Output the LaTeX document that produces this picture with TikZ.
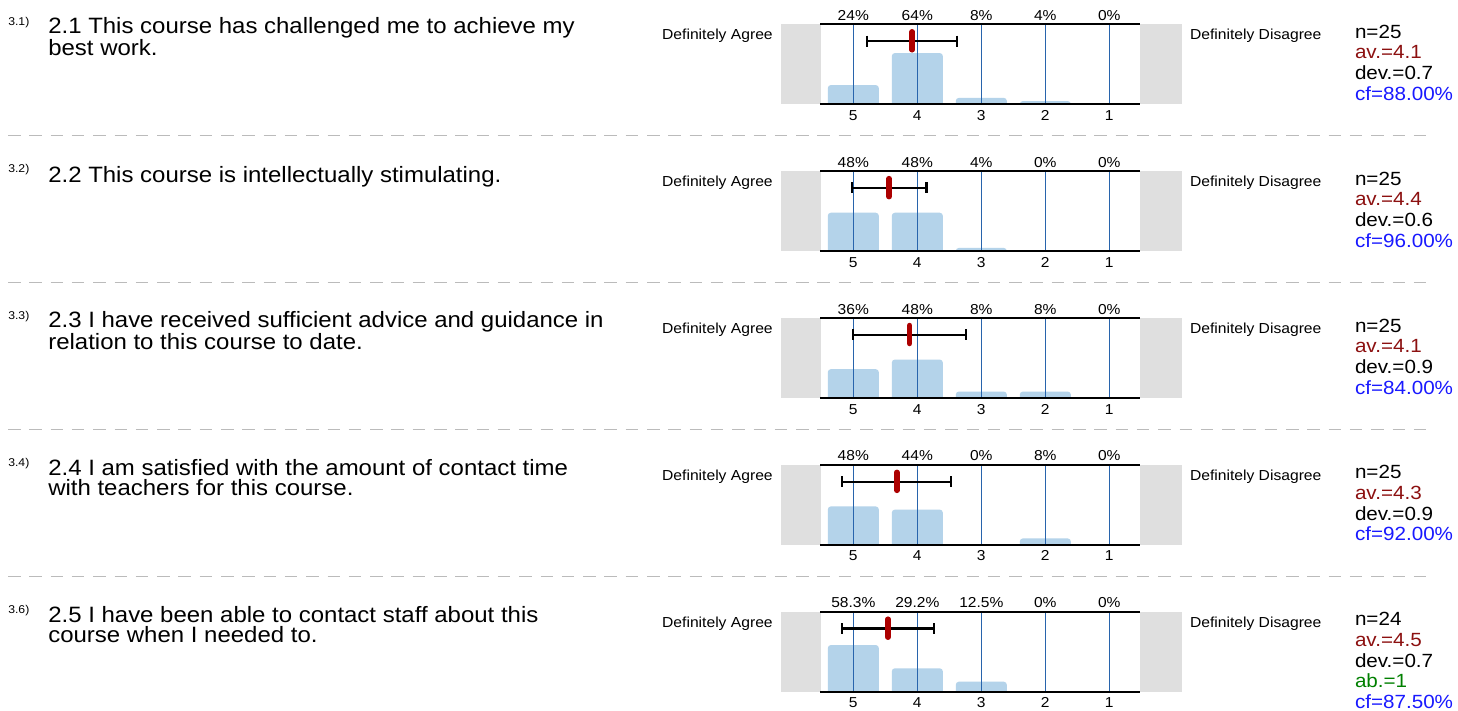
\documentclass[tikz,border=0pt]{standalone}
\usepackage{fontspec}
\setmainfont{Liberation Sans}[FakeStretch=1.08]
\definecolor{barblue}{RGB}{180,211,234}
\definecolor{gridblue}{RGB}{40,100,172}
\definecolor{sidegray}{RGB}{223,223,223}
\definecolor{meanred}{RGB}{172,0,0}
\definecolor{avred}{RGB}{140,16,16}
\definecolor{cfblue}{RGB}{25,25,255}
\definecolor{abgreen}{RGB}{0,128,0}
\definecolor{sepgray}{RGB}{187,187,187}
\tikzset{
  txt/.style={inner sep=0pt, outer sep=0pt},
  qtext/.style={txt, anchor=base west, align=left, font=\fontsize{22.2}{20}\selectfont},
  qnum/.style={txt, anchor=base west, font=\fontsize{11.3}{12}\selectfont},
  stats/.style={txt, anchor=base west, align=left, font=\fontsize{19.1}{20.7}\selectfont},
  scalelbl/.style={txt, font=\fontsize{14.5}{16}\selectfont},
  pctlbl/.style={txt, anchor=base, font=\fontsize{14.4}{16}\selectfont},
  sidebox/.style={fill=sidegray},
  barbox/.style={fill=barblue},
  vline/.style={draw=gridblue, line width=1.6pt},
  hline/.style={draw=black, line width=1.6pt},
  ebar/.style={draw=black, line width=2.2pt},
  meanmark/.style={draw=meanred, line width=5.5pt, line cap=round},
  sepline/.style={draw=sepgray, line width=1.4pt, dash pattern=on 12.5pt off 8.8pt},
}
\begin{document}
\begin{tikzpicture}[x=1pt,y=-1pt]
\useasboundingbox (0,0) rectangle (1458,711);
\fill[white] (0,0) rectangle (1458,711);
% charts
\foreach \r/\pa/\pb/\pc/\pd/\pe/\mn/\sd in {
  0/24/64/8/4/0/4.08/0.702,
  1/48/48/4/0/0/4.44/0.583,
  2/36/48/8/8/0/4.12/0.881,
  3/48/44/0/8/0/4.32/0.852,
  4/58.3/29.2/12.5/0/0/4.458/0.721}{
  \pgfmathsetmacro\T{24.3+146.85*\r}
  \pgfmathsetmacro\B{\T+80}
  \fill[sidebox] (781,\T) rectangle (821,\B);
  \fill[sidebox] (1140,\T) rectangle (1182,\B);
  \foreach \k/\p/\lab in {0/\pa/5,1/\pb/4,2/\pc/3,3/\pd/2,4/\pe/1}{
    \pgfmathsetmacro\cx{853.3+64*\k}
    \pgfmathsetmacro\h{\p*0.8}
    \ifdim\p pt>0pt
      \fill[barbox] ({\cx-25.5},\B) [rounded corners=3pt] -- ({\cx-25.5},{\B-\h}) -- ({\cx+25.5},{\B-\h}) [sharp corners] -- ({\cx+25.5},\B) -- cycle;
    \fi
    \node[pctlbl] (p\r-\k) at (\cx,{\T-4}) {\p\%};
    \node[pctlbl] (s\r-\k) at (\cx,{\B+16}) {\lab};
  }
  \foreach \k in {0,...,4}{
    \draw[vline] ({853.3+64*\k},\T) -- ({853.3+64*\k},\B);
  }
  \draw[hline] (820,\T) -- (1140,\T);
  \draw[hline] (820,\B) -- (1140,\B);
  \pgfmathsetmacro\xm{853.3+(5-\mn)*64}
  \pgfmathsetmacro\xl{\xm-\sd*64}
  \pgfmathsetmacro\xr{\xm+\sd*64}
  \pgfmathsetmacro\ey{\T+16.8}
  \draw[ebar] (\xl,\ey) -- (\xr,\ey);
  \draw[ebar] (\xl,{\ey-5.5}) -- (\xl,{\ey+5.5});
  \draw[ebar] (\xr,{\ey-5.5}) -- (\xr,{\ey+5.5});
  \draw[meanmark] (\xm,{\T+7.5}) -- (\xm,{\T+25.5});
  \node[scalelbl, anchor=base east] (agree\r) at (772.7,{\T+15.5}) {Definitely Agree};
  \node[scalelbl, anchor=base west] (disagree\r) at (1190,{\T+15.5}) {Definitely Disagree};
}
% separators
\foreach \r in {0,...,3}{
  \pgfmathsetmacro\sy{24.3+146.85*\r+111.5}
  \draw[sepline] (8,\sy) -- (1430,\sy);
}
% question texts (anchor = baseline of the last line)
\node[qnum] (n1) at (8.3,25.8) {3.1)};
\node[qtext] (q1) at (48.3,55.3) {2.1 This course has challenged me to achieve my\\best work.};
\node[qnum] (n2) at (8.3,172.6) {3.2)};
\node[qtext] (q2) at (48.3,182.2) {2.2 This course is intellectually stimulating.};
\node[qnum] (n3) at (8.3,319.5) {3.3)};
\node[qtext] (q3) at (48.3,349.0) {2.3 I have received sufficient advice and guidance in\\relation to this course to date.};
\node[qnum] (n4) at (8.3,466.3) {3.4)};
\node[qtext] (q4) at (48.3,495.9) {2.4 I am satisfied with the amount of contact time\\with teachers for this course.};
\node[qnum] (n5) at (8.3,613.2) {3.6)};
\node[qtext] (q5) at (48.3,642.7) {2.5 I have been able to contact staff about this\\course when I needed to.};
% stats (anchor = baseline of the last line)
\node[stats] (st1) at (1355,100.4) {n=25\\\textcolor{avred}{av.=4.1}\\dev.=0.7\\\textcolor{cfblue}{cf=88.00\%}};
\node[stats] (st2) at (1355,247.2) {n=25\\\textcolor{avred}{av.=4.4}\\dev.=0.6\\\textcolor{cfblue}{cf=96.00\%}};
\node[stats] (st3) at (1355,394.1) {n=25\\\textcolor{avred}{av.=4.1}\\dev.=0.9\\\textcolor{cfblue}{cf=84.00\%}};
\node[stats] (st4) at (1355,540.9) {n=25\\\textcolor{avred}{av.=4.3}\\dev.=0.9\\\textcolor{cfblue}{cf=92.00\%}};
\node[stats] (st5) at (1355,708.5) {n=24\\\textcolor{avred}{av.=4.5}\\dev.=0.7\\\textcolor{abgreen}{ab.=1}\\\textcolor{cfblue}{cf=87.50\%}};
\end{tikzpicture}
\end{document}
